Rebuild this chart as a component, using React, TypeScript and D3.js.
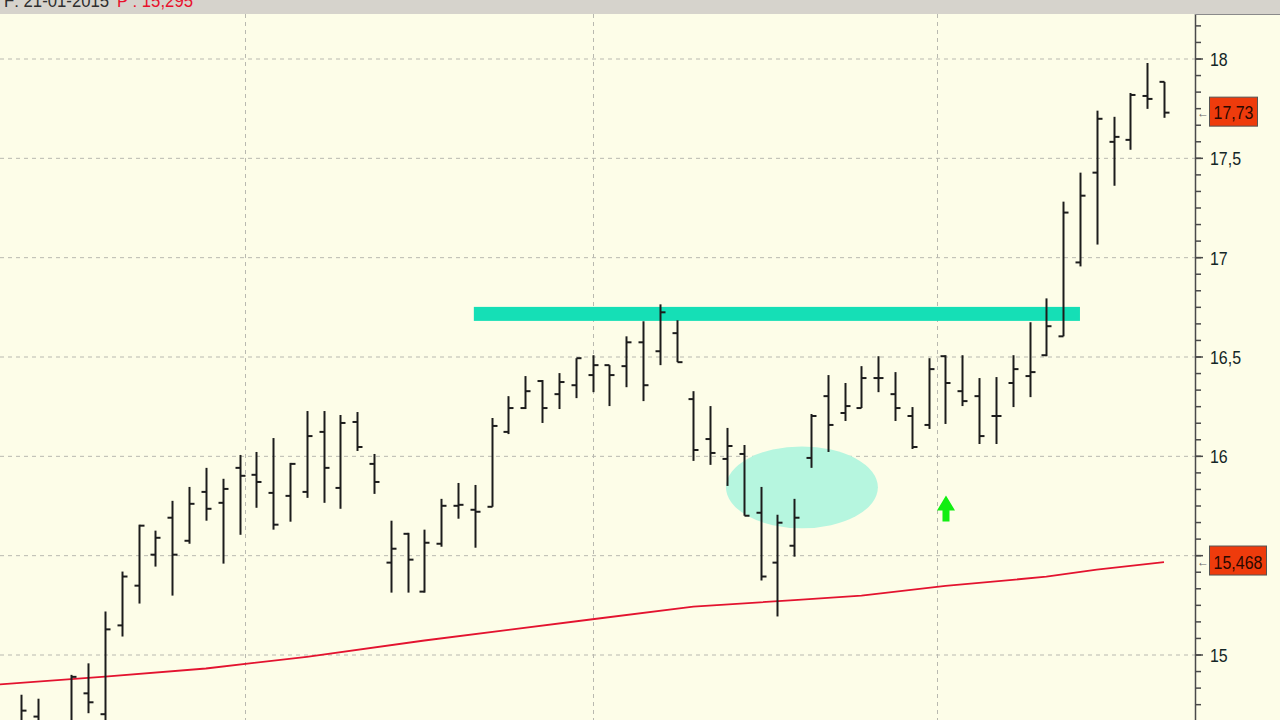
import React from "react";
import * as d3 from "d3";

// ---- data ----
const headerDate = "21-01-2015";
const headerPrice = "15,295";

const opens = [14.66, 14.69, 14.6, 14.64, 14.807, 14.702, 15.149, 15.349, 15.505, 15.691, 15.575, 15.821, 15.766, 15.942, 15.907, 15.816, 15.801, 15.821, 16.123, 15.841, 16.173, 15.962, 15.465, 15.61, 15.319, 15.56, 15.751, 15.731, 15.746, 16.123, 16.243, 16.379, 16.313, 16.358, 16.409, 16.459, 16.454, 16.574, 16.529, 16.62, 16.288, 16.087, 15.987, 16.012, 15.716, 15.465, 15.55, 15.992, 16.303, 16.218, 16.243, 16.394, 16.313, 16.203, 16.158, 16.504, 16.328, 16.303, 16.203, 16.369, 16.404, 16.509, 16.604, 16.976, 17.428, 17.583, 17.593, 17.814, 17.885];
const highs = [14.8, 14.78, 14.66, 14.9, 14.958, 15.219, 15.42, 15.656, 15.626, 15.776, 15.846, 15.942, 15.887, 16.007, 16.022, 16.092, 15.967, 16.228, 16.228, 16.208, 16.223, 16.012, 15.676, 15.615, 15.631, 15.786, 15.866, 15.856, 16.193, 16.303, 16.404, 16.384, 16.419, 16.494, 16.509, 16.459, 16.604, 16.68, 16.765, 16.685, 16.328, 16.253, 16.143, 16.057, 15.846, 15.706, 15.786, 16.213, 16.409, 16.369, 16.454, 16.504, 16.424, 16.248, 16.494, 16.509, 16.509, 16.394, 16.399, 16.509, 16.675, 16.795, 17.282, 17.428, 17.74, 17.709, 17.829, 17.98, 17.885];
const lows = [14.6, 14.58, 14.52, 14.6, 14.707, 14.66, 15.093, 15.259, 15.445, 15.299, 15.56, 15.676, 15.46, 15.605, 15.741, 15.631, 15.671, 15.791, 15.766, 15.736, 16.027, 15.811, 15.314, 15.314, 15.314, 15.545, 15.686, 15.54, 15.746, 16.112, 16.238, 16.168, 16.238, 16.293, 16.323, 16.253, 16.348, 16.278, 16.459, 16.474, 15.977, 15.957, 15.851, 15.701, 15.375, 15.194, 15.495, 15.942, 16.022, 16.178, 16.243, 16.323, 16.178, 16.037, 16.138, 16.163, 16.253, 16.062, 16.062, 16.248, 16.298, 16.504, 16.604, 16.956, 17.066, 17.362, 17.543, 17.749, 17.704];
const closes = [14.72, 14.64, 14.63, 14.89, 14.762, 15.129, 15.395, 15.651, 15.59, 15.505, 15.761, 15.736, 15.836, 15.902, 15.871, 15.656, 15.962, 16.102, 15.942, 16.168, 16.047, 15.871, 15.535, 15.48, 15.565, 15.751, 15.756, 15.721, 16.153, 16.243, 16.328, 16.243, 16.374, 16.494, 16.459, 16.409, 16.574, 16.358, 16.725, 16.474, 16.032, 16.017, 16.052, 15.701, 15.395, 15.666, 15.691, 16.203, 16.158, 16.253, 16.394, 16.394, 16.243, 16.047, 16.439, 16.369, 16.278, 16.102, 16.203, 16.439, 16.424, 16.655, 17.227, 17.312, 17.699, 17.608, 17.819, 17.799, 17.73];

// moving average, read at these bar indices
const maIndex = [-2, 5, 11, 17, 24, 29, 34, 40, 46, 50, 55, 61, 64, 68];
const maValue = [14.847, 14.891, 14.932, 14.991, 15.073, 15.126, 15.18, 15.244, 15.276, 15.299, 15.348, 15.394, 15.43, 15.468];
const maLastLabel = "15,468";

const majorTicks = [15, 15.5, 16, 16.5, 17, 17.5, 18];
const minorStep = 0.5 / 6;
const vGridIndex = [13.3, 34, 54.5];

// drawn annotations (in data units)
const resistanceLevel = 16.717;
const resistanceFrom = 27;
const resistanceTo = 63;
const ellipseIdx = 46.46;
const ellipseVal = 15.844;
const ellipseRxBars = 4.52;
const ellipseRyVal = 0.206;
const arrowIdx = 55.03;
const arrowTopVal = 15.803;
const arrowBottomVal = 15.672;

const FONT = "'Liberation Sans', Arial, sans-serif";
const SX = 0.84;

function NText(props: { x: number; y: number; size: number; fill: string; anchor?: string; sx?: number; dy?: string; children: React.ReactNode }) {
  return (
    <text
      transform={`translate(${props.x},${props.y}) scale(${props.sx || SX},1)`}
      x={0}
      y={0}
      dy={props.dy || "0.36em"}
      fontSize={props.size}
      fill={props.fill}
      textAnchor={props.anchor || "start"}
    >
      {props.children}
    </text>
  );
}

export default function App() {
  const W = 1280;
  const H = 720;
  const axisX = 1195;
  const top = 14;
  const x = d3.scaleLinear().domain([0, 68]).range([21, 1164]);
  const y = d3.scaleLinear().domain([15, 18]).range([655, 59]);

  const maLine = d3
    .line<number>()
    .x((_, i) => x(maIndex[i]))
    .y((d) => y(d));

  const minorTicks = d3.range(14.5, 18.3, minorStep).filter((v) => y(v) > top && y(v) < H);
  const fmt = (v: number) => String(v).replace(".", ",");

  const arrowCx = x(arrowIdx);
  const aTop = y(arrowTopVal);
  const aBot = y(arrowBottomVal);
  const headH = 15;
  const arrowPath = `M${arrowCx},${aTop} L${arrowCx + 9},${aTop + headH} L${arrowCx + 3.5},${aTop + headH} L${arrowCx + 3.5},${aBot} L${arrowCx - 3.5},${aBot} L${arrowCx - 3.5},${aTop + headH} L${arrowCx - 9},${aTop + headH} Z`;

  const lastClose = closes[closes.length - 1];
  const maLast = maValue[maValue.length - 1];
  const boxes = [y(lastClose), y(maLast)];
  const visibleLabels = majorTicks.filter((t) => boxes.every((b) => Math.abs(y(t) - b) > 16));

  return (
    <svg width={W} height={H} style={{ position: "absolute", left: 0, top: 0, display: "block" }} fontFamily={FONT}>
      <defs>
        <clipPath id="plot">
          <rect x={0} y={top} width={axisX} height={H - top} />
        </clipPath>
      </defs>
      <rect x={0} y={0} width={W} height={H} fill="#fdfde8" />
      {/* header band */}
      <rect x={0} y={0} width={W} height={top} fill="#d6d3cc" />
      <NText x={4} y={7} size={18} sx={0.93} dy="0" fill="#2e2e2e">
        {"F: " + headerDate}
      </NText>
      <NText x={117} y={7} size={18} sx={0.93} dy="0" fill="#e8112d">
        {"P : " + headerPrice}
      </NText>

      <g clipPath="url(#plot)">
        {majorTicks.map((t) => (
          <line key={"h" + t} x1={0} x2={axisX} y1={y(t)} y2={y(t)} stroke="#b9b9b0" strokeWidth={1} strokeDasharray="4,4" />
        ))}
        {vGridIndex.map((g) => (
          <line key={"v" + g} x1={Math.round(x(g)) + 0.5} x2={Math.round(x(g)) + 0.5} y1={top} y2={H} stroke="#b9b9b0" strokeWidth={1} strokeDasharray="4,4" />
        ))}
        <ellipse
          cx={x(ellipseIdx)}
          cy={y(ellipseVal)}
          rx={x(ellipseIdx + ellipseRxBars) - x(ellipseIdx)}
          ry={y(ellipseVal - ellipseRyVal) - y(ellipseVal)}
          fill="#b6f6df"
        />
        <rect
          x={x(resistanceFrom) - 1}
          y={y(resistanceLevel) - 7}
          width={x(resistanceTo) - x(resistanceFrom) + 1}
          height={14}
          fill="#15dfb6"
        />
        <path d={maLine(maValue) || ""} fill="none" stroke="#e3132f" strokeWidth={1.8} />
        {closes.map((c, i) => {
          const cx = Math.round(x(i)) + 0.5;
          return (
            <g key={"b" + i} stroke="#1c1c1c" strokeWidth={2}>
              <line x1={cx} x2={cx} y1={y(highs[i])} y2={y(lows[i])} />
              <line x1={cx - 5} x2={cx} y1={y(opens[i])} y2={y(opens[i])} />
              <line x1={cx} x2={cx + 5} y1={y(c)} y2={y(c)} />
            </g>
          );
        })}
        <path d={arrowPath} fill="#12ee12" />
      </g>

      {/* right axis */}
      <line x1={axisX + 0.5} x2={axisX + 0.5} y1={top} y2={H} stroke="#4a4a4a" strokeWidth={1.5} />
      <line x1={axisX} x2={W} y1={top + 0.5} y2={top + 0.5} stroke="#8a8a8a" strokeWidth={1} />
      {minorTicks.map((t, i) => (
        <line key={"mt" + i} x1={axisX} x2={axisX + 6} y1={y(t)} y2={y(t)} stroke="#4a4a4a" strokeWidth={1.5} />
      ))}
      {majorTicks.map((t) => (
        <line key={"Mt" + t} x1={axisX} x2={axisX + 8} y1={y(t)} y2={y(t)} stroke="#4a4a4a" strokeWidth={1.5} />
      ))}
      {visibleLabels.map((t) => (
        <NText key={"lbl" + t} x={1210} y={y(t)} size={19} fill="#142626">
          {fmt(t)}
        </NText>
      ))}

      {/* price boxes */}
      <text x={1197} y={y(lastClose)} dy="0.35em" fontSize={12} fill="#666">←</text>
      <rect x={1209.5} y={y(lastClose) - 15.5} width={48} height={29} fill="#ee3b0c" stroke="#555" strokeWidth={1} />
      <NText x={1233.5} y={y(lastClose)} size={19} fill="#2a0800" anchor="middle">
        {fmt(lastClose)}
      </NText>
      <text x={1197} y={y(maLast)} dy="0.35em" fontSize={12} fill="#666">←</text>
      <rect x={1209.5} y={y(maLast) - 16} width={57} height={29} fill="#ee3b0c" stroke="#555" strokeWidth={1} />
      <NText x={1238} y={y(maLast)} size={19} fill="#2a0800" anchor="middle">
        {maLastLabel}
      </NText>
    </svg>
  );
}
